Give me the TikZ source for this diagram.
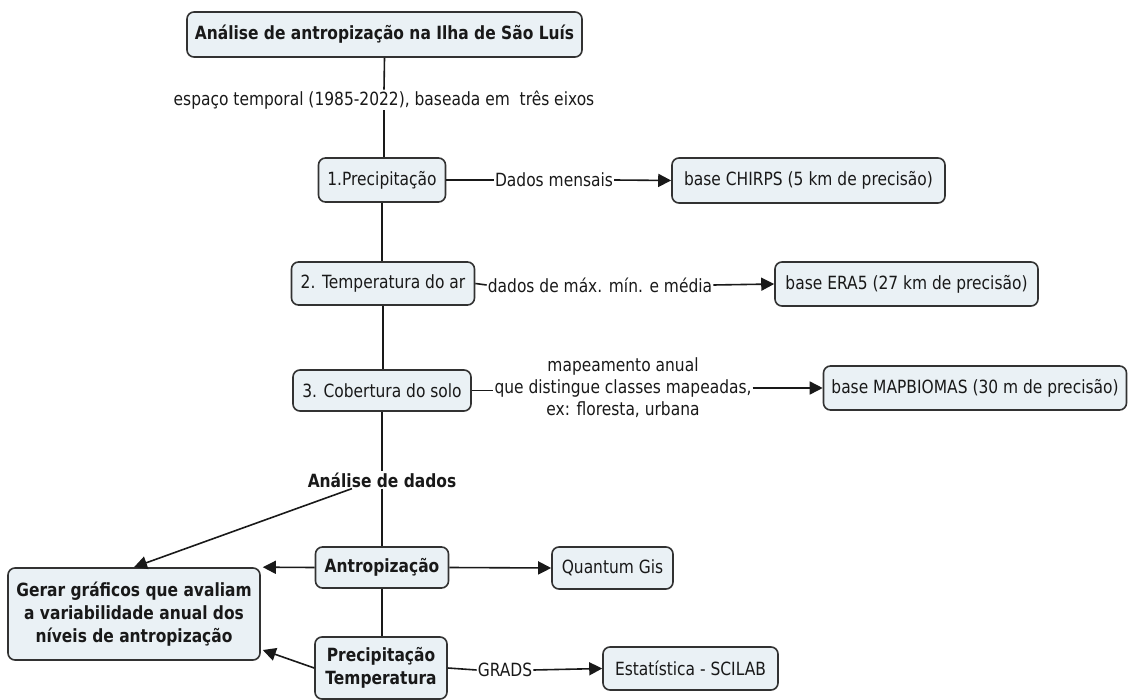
\documentclass[tikz,border=0pt]{standalone}
\usepackage{fontspec}
\setmainfont{DejaVu Sans}[FakeStretch=0.85]
\usetikzlibrary{arrows.meta,calc}
\definecolor{boxfill}{RGB}{234,241,245}
\definecolor{boxline}{RGB}{50,50,50}
\definecolor{txt}{RGB}{25,25,25}
\begin{document}
\begin{tikzpicture}[x=1pt,y=-1pt,
  box/.style={draw=boxline,fill=boxfill,line width=1.6pt,rounded corners=7pt,
    inner sep=0pt,align=center,text=txt,font=\fontsize{18.2}{22}\selectfont},
  bbox/.style={box,font=\fontsize{18.2}{23}\selectfont\bfseries},
  lab/.style={inner sep=1pt,align=center,text=txt,font=\fontsize{18.2}{22}\selectfont},
  blab/.style={lab,font=\fontsize{18.2}{22}\selectfont\bfseries},
  con/.style={draw=txt,line width=1.6pt},
  arr/.style={con,-{Triangle[length=13pt,width=13pt]}}]
\useasboundingbox (0,0) rectangle (1129,700);
% concepts
\node[bbox,minimum width=395,minimum height=45] (title) at (384.5,34.5) {Análise de antropização na Ilha de São Luís};
\node[box,minimum width=127,minimum height=44] (p1) at (382,180) {1.Precipitação};
\node[box,minimum width=183,minimum height=43] (t2) at (383,283.5) {2. Temperatura do ar};
\node[box,minimum width=178,minimum height=41] (c3) at (382,390.5) {3. Cobertura do solo};
\node[box,minimum width=273,minimum height=45] (chirps) at (808.5,180.5) {base CHIRPS (5 km de precisão)};
\node[box,minimum width=263,minimum height=44] (era5) at (906.5,284) {base ERA5 (27 km de precisão)};
\node[box,minimum width=303,minimum height=44] (mapb) at (975,388) {base MAPBIOMAS (30 m de precisão)};
\node[bbox,minimum width=133,minimum height=41] (antrop) at (382,567.5) {Antropização};
\node[bbox,minimum width=252,minimum height=92] (gerar) at (134,614) {Gerar gráficos que avaliam\\a variabilidade anual dos\\níveis de antropização};
\node[bbox,minimum width=132,minimum height=62] (prec) at (381,668) {Precipitação\\Temperatura};
\node[box,minimum width=121,minimum height=42] (qgis) at (612.5,568) {Quantum Gis};
\node[box,minimum width=175,minimum height=43] (estat) at (690.5,668.5) {Estatística - SCILAB};
% linking phrases
\node[lab] (lab0) at (384,100) {espaço temporal (1985-2022), baseada em\ \ três eixos};
\node[lab] (lab1) at (554,180) {Dados mensais};
\node[lab] (lab2) at (600,285) {dados de máx. mín. e média};
\node[lab] (lab3) at (623,388) {mapeamento anual\\que distingue classes mapeadas,\\ex: floresta, urbana};
\node[blab] (analise) at (382,480) {Análise de dados};
\node[lab] (grads) at (505,670) {GRADS};
% connectors
\draw[con] (title.south) -- (lab0.north);
\draw[con] (lab0.south) -- (lab0.south |- p1.north);
\draw[con] (p1.south) -- (p1.south |- t2.north);
\draw[con] (t2.south) -- (t2.south |- c3.north);
\draw[con] (c3.south) -- (c3.south |- analise.north);
\draw[con] (analise.south) -- (analise.south |- antrop.north);
\draw[con] (antrop.south) -- (antrop.south |- prec.north);
\draw[con] (p1.east) -- (lab1.west);
\draw[arr] (lab1.east) -- (chirps.west);
\draw[con] (t2.east) -- (lab2.west);
\draw[arr] (lab2.east) -- (era5.west);
\draw[con] (c3.east) -- (c3.east -| lab3.west);
\draw[arr] (lab3.east) -- (mapb.west);
\draw[arr] ($(analise.south)+(-30,0)$) -- (gerar.north);
\draw[arr] (antrop.west) -- ($(gerar.north east)+(2,0)$);
\draw[arr] (prec.west) -- ($(gerar.east)+(2,36)$);
\draw[arr] (antrop.east) -- (qgis.west);
\draw[con] (prec.east) -- (grads.west);
\draw[arr] (grads.east) -- (estat.west);
\end{tikzpicture}
\end{document}
